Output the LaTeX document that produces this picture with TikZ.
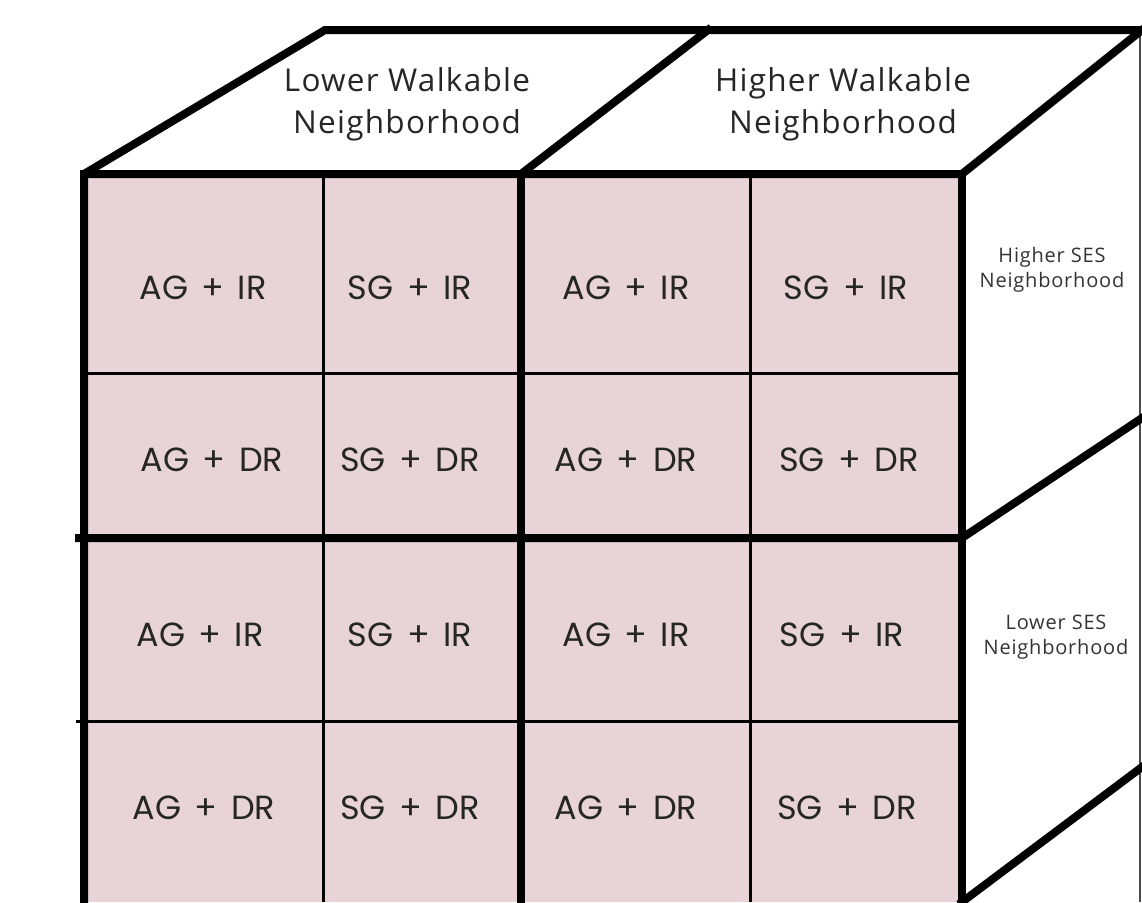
\documentclass[tikz,border=0pt]{standalone}
\usepackage{fontspec}
\setmainfont{Open Sans}
\newfontfamily\headfont[LetterSpace=4]{Open Sans}
\newfontfamily\sidefont[LetterSpace=4]{Open Sans}
\newfontfamily\cellfont[WordSpace=1.5]{Poppins}
\definecolor{cellpink}{RGB}{232,212,216}
\begin{document}
\begin{tikzpicture}[x=1pt,y=-1pt,
  thick line/.style={line width=8pt,line cap=rect,line join=miter},
  thin line/.style={line width=3pt},
  border line/.style={line width=1.5pt,black!70},
  celltext/.style={font=\cellfont\fontsize{33.5}{36}\selectfont,text=black!85,inner sep=0pt},
  headtext/.style={font=\headfont\fontsize{31.5}{42}\selectfont,text=black!85,align=center,inner sep=0pt},
  sidetext/.style={font=\sidefont\fontsize{20}{25}\selectfont,text=black!80,align=center,inner sep=0pt}]
\useasboundingbox (0,0) rectangle (1142,902);
% coordinates
\coordinate (FTL) at (84,174);
\coordinate (FTR) at (962,174);
\coordinate (FBL) at (84,902);
\coordinate (FBR) at (962,902);
\coordinate (FTM) at (521,174);
\coordinate (FBM) at (521,902);
\coordinate (BTL) at (325,30);
\coordinate (BTM) at (708,30);
\coordinate (BTR) at (1142,30);
\coordinate (RMF) at (962,538);
\coordinate (RMB) at (1142,418);
\coordinate (RBB) at (1142,767);
\coordinate (EDT) at (1140,30);
\coordinate (EDB) at (1140,902);
% front face fill
\fill[cellpink] (FTL) rectangle (FBR);
% thin grid lines
\draw[thin line] (323,174) -- (323,902);
\draw[thin line] (750,174) -- (750,902);
\draw[thin line] (84,373) -- (962,373);
\draw[thin line] (76,721) -- (962,721);
% right border
\draw[border line] (EDT) -- (EDB);
% thick lines
\draw[thick line] (FBL) -- (FTL) -- (BTL) -- (BTR);
\draw[thick line] (FTL) -- (FTR) -- (BTR);
\draw[thick line] (FTM) -- (BTM);
\draw[thick line] (FTM) -- (FBM);
\draw[thick line] (FTR) -- (FBR);
\draw[thick line] (79,538) -- (RMF) -- (RMB);
\draw[thick line] (FBR) -- (RBB);
% headers
\node[headtext] (hlow) at (407,104) {Lower Walkable\\Neighborhood};
\node[headtext] (hhigh) at (843,104) {Higher Walkable\\Neighborhood};
% side labels
\node[sidetext] (shigh) at (1052,270) {Higher SES\\Neighborhood};
\node[sidetext] (slow) at (1056,637) {Lower SES\\Neighborhood};
% cells
\node[celltext] (c11) at (203,288) {AG + IR};
\node[celltext] (c12) at (410,288) {SG + IR};
\node[celltext] (c13) at (626,288) {AG + IR};
\node[celltext] (c14) at (846,288) {SG + IR};
\node[celltext] (c21) at (212,460) {AG + DR};
\node[celltext] (c22) at (410,460) {SG + DR};
\node[celltext] (c23) at (626,460) {AG + DR};
\node[celltext] (c24) at (849,460) {SG + DR};
\node[celltext] (c31) at (200,635) {AG + IR};
\node[celltext] (c32) at (410,635) {SG + IR};
\node[celltext] (c33) at (626,635) {AG + IR};
\node[celltext] (c34) at (842,635) {SG + IR};
\node[celltext] (c41) at (204,808) {AG + DR};
\node[celltext] (c42) at (410,808) {SG + DR};
\node[celltext] (c43) at (626,808) {AG + DR};
\node[celltext] (c44) at (847,808) {SG + DR};
\end{tikzpicture}
\end{document}
